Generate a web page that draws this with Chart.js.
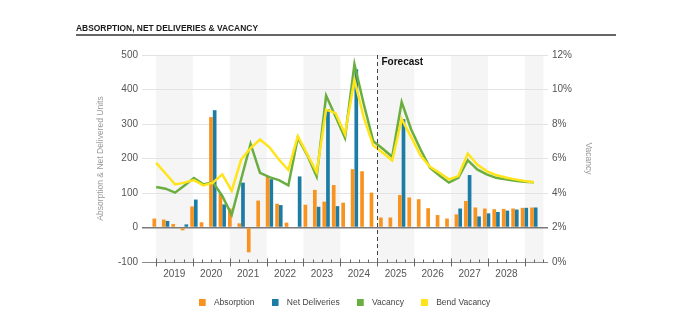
<!DOCTYPE html>
<html>
<head>
<meta charset="utf-8">
<script src="https://cdn.jsdelivr.net/npm/chart.js@4/dist/chart.umd.min.js"></script>
<style>
  html, body { margin: 0; padding: 0; background: #fff; }
  canvas { display: block; }
</style>
</head>
<body>
<canvas id="chart" width="700" height="335"></canvas>
<script>
// quarterly categories, one empty slot padding each end of the axis
const quarters = ['',
  '2019 Q1', '2019 Q2', '2019 Q3', '2019 Q4',
  '2020 Q1', '2020 Q2', '2020 Q3', '2020 Q4',
  '2021 Q1', '2021 Q2', '2021 Q3', '2021 Q4',
  '2022 Q1', '2022 Q2', '2022 Q3', '2022 Q4',
  '2023 Q1', '2023 Q2', '2023 Q3', '2023 Q4',
  '2024 Q1', '2024 Q2', '2024 Q3', '2024 Q4',
  '2025 Q1', '2025 Q2', '2025 Q3', '2025 Q4',
  '2026 Q1', '2026 Q2', '2026 Q3', '2026 Q4',
  '2027 Q1', '2027 Q2', '2027 Q3', '2027 Q4',
  '2028 Q1', '2028 Q2', '2028 Q3', '2028 Q4',
  '2029 Q1', ''];
const yearLabels = ['2019', '2020', '2021', '2022', '2023', '2024', '2025', '2026', '2027', '2028'];

const absorption = [null,
  26, 23, 10, -8,
  61, 15, 320, 97,
  55, 12, -72, 78,
  147, 69, 14, 0,
  66, 109, 75, 123,
  72, 169, 163, 101,
  29, 29, 94, 87,
  82, 56, 36, 26,
  38, 77, 58, 55,
  53, 54, 55, 57,
  58, null];
const netDeliveries = [null,
  0, 19, 0, 9,
  81, 0, 340, 67,
  0, 130, 0, 0,
  140, 65, 0, 148,
  0, 60, 343, 62,
  0, 459, 0, 0,
  0, 0, 314, 0,
  0, 0, 0, 0,
  55, 152, 32, 41,
  45, 49, 52, 57,
  58, null];
const vacancy = [null,
  4.35, 4.25, 4.02, 4.44,
  4.87, 4.5, 4.63, 3.83,
  2.73, 4.8, 6.85, 5.17,
  4.92, 4.75, 4.44, 7.2,
  6.2, 4.95, 9.65, 8.44,
  7.19, 11.48, 9.12, 7.0,
  6.56, 6.1, 9.27, 7.7,
  6.52, 5.46, 5.02, 4.6,
  4.88, 5.9, 5.37, 5.08,
  4.88, 4.79, 4.71, 4.65,
  4.62, null];
const bendVacancy = [null,
  5.75, 5.13, 4.5, 4.6,
  4.75, 4.44, 4.6, 5.08,
  4.12, 5.94, 6.6, 7.1,
  6.65, 5.94, 5.33, 7.3,
  6.25, 5.2, 8.83, 8.63,
  7.42, 10.56, 8.35, 6.75,
  6.33, 5.88, 8.29, 7.25,
  6.17, 5.52, 5.17, 4.79,
  4.98, 6.29, 5.65, 5.27,
  5.04, 4.9, 4.79, 4.69,
  4.63, null];

const unitTicks = [-100, 0, 100, 200, 300, 400, 500];
const vacancyTicks = [0, 2, 4, 6, 8, 10, 12];
const forecastStart = 25; // boundary index where 2025 begins

const colors = {
  absorption: '#f7931e',
  deliveries: '#1b7ca6',
  vacancy: '#6aae40',
  bend: '#ffe41a'
};

Chart.defaults.font.family = 'Arial, "Liberation Sans", sans-serif';
Chart.defaults.color = '#555';

// little square for legend, left part of a wider canvas so the text sits further away
function swatch(color) {
  const c = document.createElement('canvas');
  c.width = 11;
  c.height = 7;
  const g = c.getContext('2d');
  g.fillStyle = color;
  g.fillRect(0, 0, 7, 7);
  return c;
}
const swatchColors = [colors.absorption, colors.deliveries, colors.vacancy, colors.bend];

// shaded years, forecast marker, axis ticks, heading
const decorations = {
  id: 'decorations',
  beforeDraw(chart) {
    const {ctx, chartArea} = chart;
    const xq = chart.scales.xq;
    ctx.save();
    ctx.fillStyle = '#f5f5f5';
    for (let k = 1; k < 43; k += 8) {
      const x0 = xq.getPixelForValue(k);
      const x1 = xq.getPixelForValue(Math.min(k + 4, 43));
      ctx.fillRect(x0, chartArea.top, x1 - x0, chartArea.bottom - chartArea.top);
    }
    ctx.restore();
  },
  afterDatasetsDraw(chart) {
    const {ctx, chartArea} = chart;
    const x = Math.round(chart.scales.xq.getPixelForValue(forecastStart)) + 0.5;
    ctx.save();
    ctx.strokeStyle = '#444';
    ctx.lineWidth = 1;
    ctx.setLineDash([4, 3]);
    ctx.beginPath();
    ctx.moveTo(x, chartArea.top);
    ctx.lineTo(x, chartArea.bottom);
    ctx.stroke();
    ctx.setLineDash([]);
    ctx.fillStyle = '#111';
    ctx.font = 'bold 10px Arial, "Liberation Sans", sans-serif';
    ctx.textBaseline = 'middle';
    ctx.fillText('Forecast', x + 4, chartArea.top + 7);
    ctx.restore();
  },
  afterDraw(chart) {
    const {ctx, chartArea} = chart;
    const xq = chart.scales.xq;
    const yb = Math.round(chartArea.bottom) + 0.5;
    ctx.save();
    ctx.strokeStyle = '#666';
    ctx.lineWidth = 1;
    ctx.beginPath();
    for (let k = 1; k <= 43; k++) {
      const x = Math.round(xq.getPixelForValue(k)) + 0.5;
      if ((k - 1) % 4 === 0) {
        ctx.moveTo(x, yb - 4);
        ctx.lineTo(x, yb + 4);
      } else {
        ctx.moveTo(x, yb - 3);
        ctx.lineTo(x, yb);
      }
    }
    ctx.stroke();

    // heading
    ctx.fillStyle = '#1a1a1a';
    ctx.font = 'bold 9px Arial, "Liberation Sans", sans-serif';
    ctx.textBaseline = 'alphabetic';
    ctx.fillText('ABSORPTION, NET DELIVERIES & VACANCY', 76, 31, 182);
    ctx.strokeStyle = '#666';
    ctx.lineWidth = 2;
    ctx.beginPath();
    ctx.moveTo(76, 35);
    ctx.lineTo(616, 35);
    ctx.stroke();
    ctx.restore();
  }
};

new Chart(document.getElementById('chart').getContext('2d'), {
  type: 'bar',
  data: {
    labels: quarters,
    datasets: [
      {
        label: 'Absorption',
        data: absorption,
        backgroundColor: colors.absorption,
        xAxisID: 'x',
        yAxisID: 'y',
        barPercentage: 1,
        categoryPercentage: 0.78,
        order: 2
      },
      {
        label: 'Net Deliveries',
        data: netDeliveries,
        backgroundColor: colors.deliveries,
        xAxisID: 'x',
        yAxisID: 'y',
        barPercentage: 1,
        categoryPercentage: 0.78,
        order: 3
      },
      {
        type: 'line',
        label: 'Vacancy',
        data: vacancy,
        borderColor: colors.vacancy,
        backgroundColor: colors.vacancy,
        borderWidth: 2.5,
        pointRadius: 0,
        tension: 0,
        xAxisID: 'x',
        yAxisID: 'y1',
        order: 1
      },
      {
        type: 'line',
        label: 'Bend Vacancy',
        data: bendVacancy,
        borderColor: colors.bend,
        backgroundColor: colors.bend,
        borderWidth: 2.5,
        pointRadius: 0,
        tension: 0,
        xAxisID: 'x',
        yAxisID: 'y1',
        order: 0
      }
    ]
  },
  options: {
    responsive: false,
    animation: false,
    devicePixelRatio: 1,
    layout: {
      padding: { left: 96, right: 107, top: 55, bottom: 18.5 }
    },
    plugins: {
      tooltip: { enabled: false },
      legend: {
        position: 'bottom',
        labels: {
          usePointStyle: true,
          pointStyleWidth: 11,
          boxHeight: 7,
          padding: 17,
          color: '#444',
          font: { size: 8.5 },
          sort: (a, b) => a.datasetIndex - b.datasetIndex,
          generateLabels(chart) {
            const items = Chart.defaults.plugins.legend.labels.generateLabels(chart);
            return items.map(it => Object.assign(it, { pointStyle: swatch(swatchColors[it.datasetIndex]) }));
          }
        }
      }
    },
    scales: {
      x: {
        type: 'category',
        display: false,
        offset: true
      },
      xq: {
        type: 'linear',
        position: 'bottom',
        min: 0,
        max: 43,
        afterBuildTicks(scale) {
          scale.ticks = quarters.concat(['']).map((q, i) => ({ value: i }));
        },
        afterFit(scale) { scale.height = 19; },
        grid: { display: false, drawTicks: false },
        border: { display: false },
        ticks: {
          autoSkip: false,
          maxRotation: 0,
          padding: 6,
          color: '#555',
          font: { size: 10 },
          callback(value) {
            const i = (value - 3) / 4;
            return Number.isInteger(i) && i < yearLabels.length ? yearLabels[i] : '';
          }
        }
      },
      y: {
        position: 'left',
        min: unitTicks[0],
        max: unitTicks[unitTicks.length - 1],
        afterBuildTicks(scale) {
          scale.ticks = unitTicks.map(v => ({ value: v }));
        },
        afterFit(scale) { scale.width = 46; },
        border: { display: false },
        grid: {
          drawTicks: false,
          color: ctx => ctx.tick.value === 0 ? '#7a7a7a' : (ctx.tick.value === -100 ? '#888' : '#e3e3e3'),
          lineWidth: ctx => ctx.tick.value === 0 ? 1.5 : 1
        },
        ticks: { padding: 4, color: '#555', font: { size: 10 } },
        title: {
          display: true,
          text: 'Absorption & Net Delivered Units',
          color: '#9a9a9a',
          font: { size: 8.5 },
          padding: 0
        }
      },
      y1: {
        position: 'right',
        min: vacancyTicks[0],
        max: vacancyTicks[vacancyTicks.length - 1],
        afterBuildTicks(scale) {
          scale.ticks = vacancyTicks.map(v => ({ value: v }));
        },
        afterFit(scale) { scale.width = 45; },
        border: { display: false },
        grid: { drawOnChartArea: false, drawTicks: false },
        ticks: {
          padding: 4,
          color: '#555',
          font: { size: 10 },
          callback: v => v + '%'
        },
        title: {
          display: true,
          text: 'Vacancy',
          color: '#9a9a9a',
          font: { size: 8.5 },
          padding: 0
        }
      }
    }
  },
  plugins: [decorations]
});
</script>
</body>
</html>
